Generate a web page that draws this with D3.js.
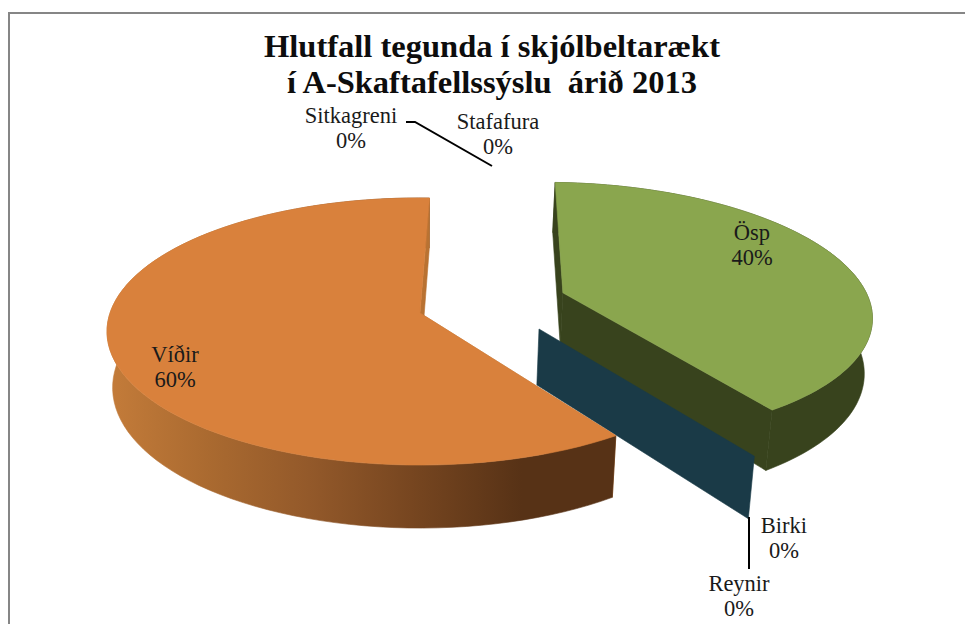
<!DOCTYPE html>
<html><head><meta charset="utf-8">
<script src="https://cdn.jsdelivr.net/npm/d3@7"></script>
<style>html,body{margin:0;padding:0;background:#fff;overflow:hidden}svg{display:block}text{font-family:"Liberation Serif",serif}</style>
</head><body><svg id="c" width="965" height="624"></svg>
<script>
const categories = ["Ösp","Birki","Reynir","Víðir","Sitkagreni","Stafafura"];
const values = [40,0,0,60,0,0];
const percentLabels = ["40%","0%","0%","60%","0%","0%"];
const titleLines = ["Hlutfall tegunda í skjólbeltarækt","í A-Skaftafellssýslu  árið 2013"];

const svg=d3.select("#c");
const defs=svg.append("defs");
const grad=defs.append("linearGradient").attr("id","wallGrad").attr("gradientUnits","userSpaceOnUse")
  .attr("x1",107).attr("x2",613).attr("y1",0).attr("y2",0);
[[0,"#c47c3a"],[.2,"#aa6a30"],[.4,"#93592a"],[.6,"#774620"],[.82,"#573216"],[1,"#573216"]]
  .forEach(s=>grad.append("stop").attr("offset",s[0]).attr("stop-color",s[1]));

svg.append("rect").attr("x",9).attr("y",13).attr("width",970).attr("height",640).attr("fill","#fff").attr("stroke","#868686").attr("stroke-width",2);

// pie angles through d3.pie
const pie=d3.pie().value(d=>d).sort(null).startAngle(2*Math.PI/180).endAngle(362*Math.PI/180);
const arcs=pie(values);

// perspective projection of the pie plane
const k=0.1386, vx=420, cy0=313;
const sx=d3.scaleLinear().domain([-1,1]).range([-310,310]);
const sy=d3.scaleLinear().domain([-1,1]).range([-131,131]);
function proj(u,v,drop){
  const s=1/(1-k*v);
  const x=vx+sx(u)*s, y=cy0+sy(v)*s;
  if(!drop) return [x,y];
  const h=Math.max(50,55+8*v);
  return [vx+(x-vx)*0.982,y+h];
}
function pt(a,off){ return [off[0]+Math.sin(a), off[1]-Math.cos(a)]; }
const explode=[[0.471,-0.157],[0.3775,0.12],[0,0],[0,0],[0,0],[0,0]];
const line=d3.line();
const topFill=["#8aa64e",null,null,"#d9813c"];
const wallFill=["#38431d","#1a3a47",null,"url(#wallGrad)"];
const faceFill=["#38431d","#1a3a47",null,"#b97232"];

function rim(d,off,n=90){ return d3.range(n+1).map(i=>pt(d.startAngle+(d.endAngle-d.startAngle)*i/n,off)); }

function drawSlice(i){
  const d=arcs[i],off=explode[i],g=svg.append("g");
  const r0=pt(d.startAngle,off), r1=pt(d.endAngle,off);
  const P=p=>proj(p[0],p[1],false), B=p=>proj(p[0],p[1],true);
  const face=r=>g.append("path").attr("d",line([P(off),P(r),B(r),B(off)])+"Z").attr("fill",faceFill[i]).attr("stroke",faceFill[i]).attr("stroke-width",0.6);
  face(r0);
  if(d.value===0) return;
  const pts=rim(d,off);
  g.append("path").attr("d",line(pts.map(P).concat(pts.map(B).reverse()))+"Z").attr("fill",wallFill[i]).attr("stroke",wallFill[i]).attr("stroke-width",0.6);
  face(r1);
  g.append("path").attr("d",line([P(off)].concat(pts.map(P)))+"Z").attr("fill",topFill[i]).attr("stroke",topFill[i]).attr("stroke-width",0.6);
}
drawSlice(0);drawSlice(1);drawSlice(3);

// leader lines
const leaders=[[[406,122],[415,122],[492,166]],[[749,517],[749,569]]];
leaders.forEach(l=>svg.append("path").attr("d",line(l)).attr("fill","none").attr("stroke","#000").attr("stroke-width",2));

// labels
const labelPos=[[752,240],[784,533],[739,591],[175,362],[351,123],[498,129]];
categories.forEach((c,i)=>{
  const t=svg.append("text").attr("text-anchor","middle").attr("font-size",22.5).attr("fill","#1a1a1a");
  t.append("tspan").attr("x",labelPos[i][0]).attr("y",labelPos[i][1]).text(c);
  t.append("tspan").attr("x",labelPos[i][0]).attr("y",labelPos[i][1]+24.5).text(percentLabels[i]);
});
// title
titleLines.forEach((s,i)=>svg.append("text").attr("x",492).attr("y",57+i*36).attr("text-anchor","middle")
  .attr("font-size",32.5).attr("font-weight","bold").attr("fill","#0d0d0d").style("white-space","pre").text(s));
</script></body></html>
